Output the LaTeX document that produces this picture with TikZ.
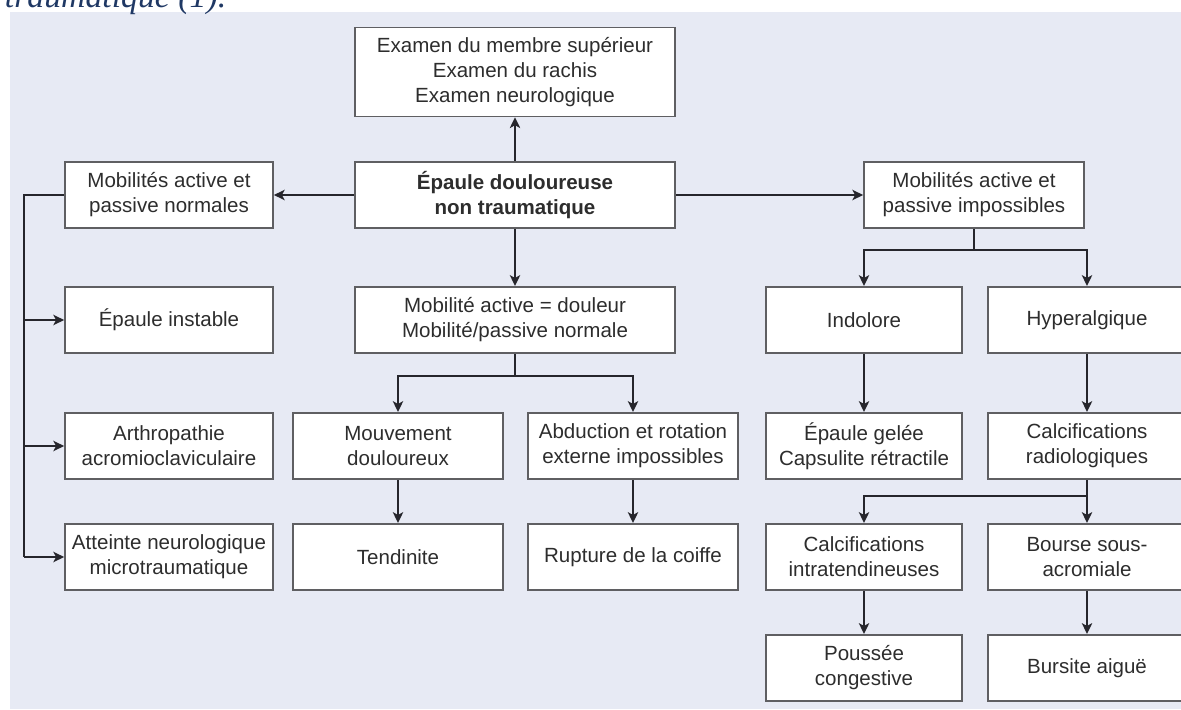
\documentclass[tikz,border=0pt]{standalone}
\usepackage{fontspec}
\setmainfont{Liberation Sans}
\newfontfamily\titrefont{Liberation Serif}
\usetikzlibrary{arrows.meta}
\definecolor{fond}{RGB}{231,234,244}
\definecolor{trait}{RGB}{38,38,44}
\definecolor{bord}{RGB}{95,95,98}
\definecolor{texte}{RGB}{45,45,45}
\definecolor{titre}{RGB}{31,56,100}

\begin{document}
\begin{tikzpicture}[x=0.025cm, y=-0.025cm,
  boite/.style={draw=bord, line width=1.2pt, fill=white, text=texte, align=center,
    inner sep=0pt, minimum height=1.66cm, font=\fontsize{14.6}{17.8}\selectfont},
  fl/.style={draw=trait, line width=1.2pt, -{Stealth[length=2.7mm,width=2.6mm,inset=0.7mm]}}]
  \useasboundingbox (0,0) rectangle (1181,709);
  % cadre
  \fill[fond] (10,12) rectangle (1181,709);
  \node[anchor=base west, text=titre, font=\titrefont\itshape\fontsize{24}{28}\selectfont] (legende) at (0,8) {traumatique (1).};
  % boîtes
  \node[boite, minimum width=8cm, minimum height=2.22cm] (exam) at (515,72) {Examen du membre supérieur\\Examen du rachis\\Examen neurologique};
  \node[boite, minimum width=8cm, font=\bfseries\fontsize{14.6}{17.8}\selectfont] (racine) at (515,195) {Épaule douloureuse\\non traumatique};
  \node[boite, minimum width=5.2cm] (normales) at (169,195) {Mobilités active et\\passive normales};
  \node[boite, minimum width=5.2cm] (instable) at (169,320) {Épaule instable};
  \node[boite, minimum width=5.2cm] (arthro) at (169,446) {Arthropathie\\acromioclaviculaire};
  \node[boite, minimum width=5.2cm] (neuro) at (169,557) {Atteinte neurologique\\microtraumatique};
  \node[boite, minimum width=8cm] (active) at (515,320) {Mobilité active = douleur\\Mobilité/passive normale};
  \node[boite, minimum width=5.25cm] (mouv) at (398,446) {Mouvement\\douloureux};
  \node[boite, minimum width=5.25cm] (abduc) at (633,446) {Abduction et rotation\\externe impossibles};
  \node[boite, minimum width=5.25cm] (tendin) at (398,557) {Tendinite};
  \node[boite, minimum width=5.25cm] (rupture) at (633,557) {Rupture de la coiffe};
  \node[boite, minimum width=5.5cm] (imposs) at (974,195) {Mobilités active et\\passive impossibles};
  \node[boite, minimum width=4.9cm] (indol) at (864,320) {Indolore};
  \node[boite, minimum width=4.95cm] (hyper) at (1087,320) {Hyperalgique};
  \node[boite, minimum width=4.9cm] (gelee) at (864,446) {Épaule gelée\\Capsulite rétractile};
  \node[boite, minimum width=4.95cm] (calcrad) at (1087,446) {Calcifications\\radiologiques};
  \node[boite, minimum width=4.9cm] (calcint) at (864,557) {Calcifications\\intratendineuses};
  \node[boite, minimum width=4.95cm] (bourse) at (1087,557) {Bourse sous-\\acromiale};
  \node[boite, minimum width=4.9cm] (poussee) at (864,668) {Poussée\\congestive};
  \node[boite, minimum width=4.95cm] (bursite) at (1087,668) {Bursite aiguë};
  % flèches
  \draw[fl] (racine) -- (exam);
  \draw[fl] (racine) -- (normales);
  \draw[fl] (racine) -- (imposs);
  \draw[fl] (racine) -- (active);
  \coordinate (bus) at (24,195);
  \draw[fl, -] (normales.west) -- (bus) -- (bus |- neuro.west);
  \foreach \n in {instable,arthro,neuro} \draw[fl] (bus |- \n.west) -- (\n.west);
  \foreach \n in {mouv,abduc} \draw[fl] (active.south) -- ++(0,22) -| (\n.north);
  \foreach \n in {indol,hyper} \draw[fl] (imposs.south) -- ++(0,21) -| (\n.north);
  \draw[fl] (calcrad.south) ++(0,16) -| (calcint.north);
  \foreach \a/\b in {mouv/tendin,abduc/rupture,indol/gelee,hyper/calcrad,calcrad/bourse,calcint/poussee,bourse/bursite}
    \draw[fl] (\a) -- (\b);
\end{tikzpicture}
\end{document}
